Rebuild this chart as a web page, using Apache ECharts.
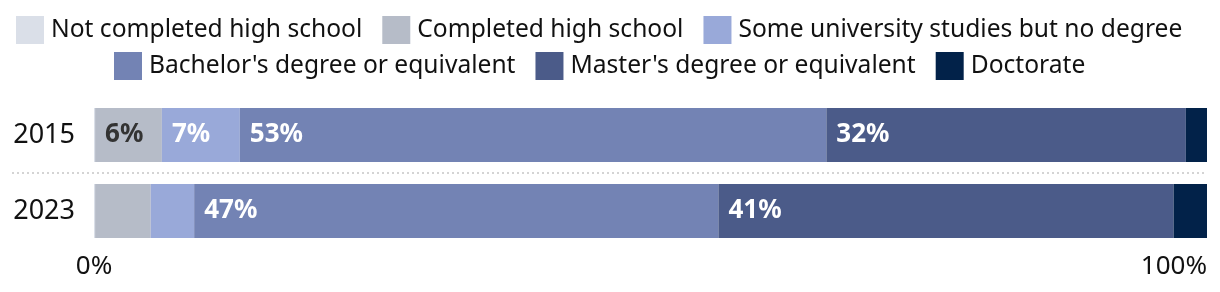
<!DOCTYPE html>
<html>
<head>
<meta charset="utf-8">
<script src="https://cdn.jsdelivr.net/npm/echarts@6/dist/echarts.min.js"></script>
<style>
html,body{margin:0;padding:0;background:#fff;}
#chart{width:1220px;height:292px;}
</style>
</head>
<body>
<div id="chart"></div>
<script>
var years = ['2015', '2023'];
var seriesNames = [
  'Not completed high school',
  'Completed high school',
  'Some university studies but no degree',
  "Bachelor's degree or equivalent",
  "Master's degree or equivalent",
  'Doctorate'
];
var notCompleted = [0.1, 0.1];
var completedHS = [6.0, 5.0];
var someUniversity = [7.0, 3.9];
var bachelors = [52.7, 47.1];
var masters = [32.3, 40.9];
var doctorate = [1.9, 3.0];
var xTicks = [0, 100];

var colors = ['#dadfe8', '#b6bcc8', '#99a9d9', '#7383b4', '#4b5b89', '#022249'];
var labelColors = ['#333333', '#333333', '#ffffff', '#ffffff', '#ffffff', '#ffffff'];
var allData = [notCompleted, completedHS, someUniversity, bachelors, masters, doctorate];
var FONT = '"Noto Sans", sans-serif';

var chart = echarts.init(document.getElementById('chart'), null, {renderer: 'canvas'});

var series = seriesNames.map(function (name, i) {
  return {
    name: name,
    type: 'bar',
    stack: 'total',
    barWidth: 54,
    data: allData[i],
    itemStyle: {color: colors[i]},
    emphasis: {disabled: true},
    label: {
      show: true,
      position: 'insideLeft',
      distance: 10,
      color: labelColors[i],
      fontFamily: FONT,
      fontWeight: 'bold',
      fontSize: 26,
      formatter: function (p) {
        return p.value >= 5.5 ? Math.round(p.value) + '%' : '';
      }
    }
  };
});

var legendCommon = {
  orient: 'horizontal',
  padding: 0,
  itemWidth: 28,
  itemHeight: 28,
  itemGap: 20,
  icon: 'rect',
  selectedMode: false,
  textStyle: {fontFamily: FONT, fontSize: 24.6, color: '#111', padding: [0, 0, 0, 2]}
};

chart.setOption({
  animation: false,
  color: colors,
  legend: [
    Object.assign({}, legendCommon, {left: 16, top: 16, data: seriesNames.slice(0, 3)}),
    Object.assign({}, legendCommon, {left: 114, top: 52, data: seriesNames.slice(3)})
  ],
  grid: {left: 94, right: 13, top: 97, height: 152, containLabel: false},
  xAxis: {
    type: 'value',
    min: xTicks[0],
    max: xTicks[xTicks.length - 1],
    interval: xTicks[1] - xTicks[0],
    axisLine: {show: false},
    axisTick: {show: false},
    splitLine: {show: false},
    axisLabel: {
      fontFamily: FONT,
      fontSize: 26,
      color: '#111',
      margin: 5,
      alignMaxLabel: 'right',
      formatter: function (v) { return v + '%'; }
    }
  },
  yAxis: {
    type: 'category',
    data: years,
    inverse: true,
    axisLine: {show: false},
    axisTick: {show: false},
    splitLine: {show: false},
    axisLabel: {fontFamily: FONT, fontSize: 27, color: '#111', margin: 19}
  },
  series: series
});

// dotted separator between the two year rows, positioned through the axes
var y0 = chart.convertToPixel({yAxisIndex: 0}, 0);
var y1 = chart.convertToPixel({yAxisIndex: 0}, 1);
var xEnd = chart.convertToPixel({xAxisIndex: 0}, xTicks[xTicks.length - 1]);
var ySep = Math.round((y0 + y1) / 2);
chart.setOption({
  graphic: [{
    type: 'line',
    shape: {x1: 12, y1: ySep, x2: xEnd, y2: ySep},
    style: {stroke: '#d4d4d4', lineWidth: 2, lineDash: [2, 3]},
    silent: true
  }]
});
</script>
</body>
</html>
